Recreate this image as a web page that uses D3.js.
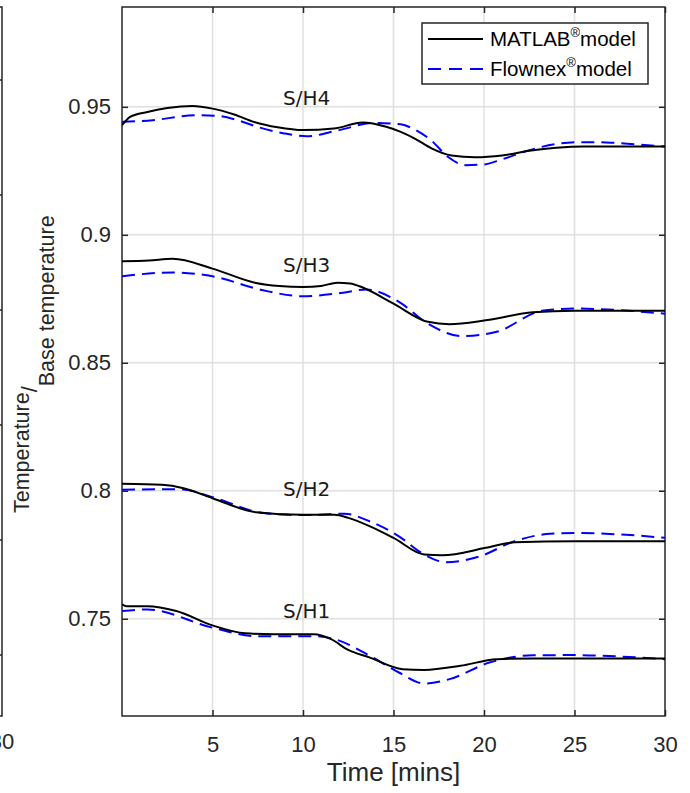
<!DOCTYPE html>
<html>
<head>
<meta charset="utf-8">
<script src="https://cdn.jsdelivr.net/npm/d3@7"></script>
<style>
	body { margin: 0; background: #fff; }
	text { font-family: 'Liberation Sans', Arial, Helvetica, sans-serif; }
</style>
</head>
<body>
<svg id="chart" width="690" height="793"></svg>
<script>
// ticks
let xTicks = [5, 10, 15, 20, 25, 30];
let yTicks = [0.75, 0.8, 0.85, 0.9, 0.95];

// S/H4
let sh4MatlabT = [0, 0.45, 1.4, 2.5, 3.9, 5.0, 6.2, 7.3, 8.6, 10.0, 11.7, 13.3, 14.6, 15.4, 16.2, 17.1, 18.2, 19.5, 21.0, 22.5, 24.0, 25.5, 30];
let sh4MatlabV = [0.9428, 0.9461, 0.948, 0.9495, 0.9503, 0.9493, 0.947, 0.9441, 0.942, 0.9409, 0.9415, 0.9439, 0.9422, 0.9402, 0.9375, 0.9338, 0.931, 0.9303, 0.931, 0.9328, 0.934, 0.9345, 0.9345];
let sh4FlownexT = [0, 1.7, 4.1, 5.4, 6.5, 7.6, 8.9, 10.2, 12.0, 13.9, 15.4, 16.2, 17.1, 18.0, 19.0, 20.0, 21.0, 22.5, 24.0, 25.5, 27.0, 28.5, 30];
let sh4FlownexV = [0.9441, 0.9448, 0.9467, 0.9464, 0.9445, 0.9419, 0.9397, 0.9385, 0.9409, 0.9437, 0.9432, 0.941, 0.9368, 0.9305, 0.9272, 0.9275, 0.9295, 0.933, 0.9355, 0.9362, 0.936, 0.9353, 0.9345];

// S/H3
let sh3MatlabT = [0, 1.5, 2.8, 5.0, 7.4, 8.7, 10.0, 11.0, 11.9, 12.6, 13.3, 15.0, 16.9, 18.1, 20.1, 22.7, 25.0, 30];
let sh3MatlabV = [0.8897, 0.89, 0.8906, 0.8868, 0.8812, 0.88, 0.8796, 0.88, 0.8813, 0.881, 0.8794, 0.8731, 0.866, 0.8651, 0.8666, 0.8697, 0.8703, 0.8703];
let sh3FlownexT = [0, 2.8, 5.0, 7.8, 10.0, 12.1, 13.5, 15.3, 16.9, 18.8, 20.7, 23.2, 25.0, 27.6, 30];
let sh3FlownexV = [0.8838, 0.8853, 0.8838, 0.8783, 0.876, 0.8773, 0.8786, 0.8738, 0.8653, 0.8604, 0.8621, 0.8703, 0.8712, 0.8705, 0.8692];

// S/H2
let sh2MatlabT = [0, 2.2, 3.4, 5.0, 7.4, 10.0, 11.75, 12.5, 13.7, 15.0, 16.7, 17.7, 20.1, 21.7, 25.0, 30];
let sh2MatlabV = [0.8027, 0.8023, 0.801, 0.7971, 0.7916, 0.7906, 0.7906, 0.7894, 0.7861, 0.7816, 0.7751, 0.7748, 0.7777, 0.7799, 0.7803, 0.7803];
let sh2FlownexT = [0, 3.2, 5.0, 7.8, 10.0, 12.3, 13.7, 15.3, 16.7, 17.9, 19.7, 21.7, 23.65, 25.0, 27.6, 30];
let sh2FlownexV = [0.8004, 0.8006, 0.7975, 0.7913, 0.7905, 0.791, 0.788, 0.7822, 0.7751, 0.7721, 0.7742, 0.7803, 0.7832, 0.7835, 0.7829, 0.7816];

// S/H1
let sh1MatlabT = [0, 0.25, 1.4, 3.0, 5.0, 6.8, 8.4, 10.6, 11.55, 12.5, 13.7, 15.5, 16.7, 18.7, 20.7, 22.7, 30];
let sh1MatlabV = [0.7556, 0.7549, 0.7549, 0.753, 0.7474, 0.7443, 0.7439, 0.7439, 0.742, 0.7378, 0.7348, 0.7303, 0.73, 0.7316, 0.7342, 0.7345, 0.7345];
let sh1FlownexT = [0, 1.4, 5.0, 7.4, 10.6, 11.75, 13.7, 15.3, 16.7, 18.1, 20.3, 22.7, 25.0, 27.6, 30];
let sh1FlownexV = [0.753, 0.7536, 0.7465, 0.7432, 0.7432, 0.742, 0.7355, 0.729, 0.7247, 0.7264, 0.7329, 0.7357, 0.7358, 0.7352, 0.7342];

// curve labels
let labelNames = ['S/H4', 'S/H3', 'S/H2', 'S/H1'];
let labelT = [8.9, 8.9, 8.9, 8.9];
let labelV = [0.9507, 0.8855, 0.798, 0.7504];

// neighbouring (cropped) axes on the left
let neighbourTicks = [0.7, 0.75, 0.8, 0.85, 0.9, 0.95];

let legendNames = ['MATLAB', 'Flownex'];

/*global d3*/
let svg = d3.select('#chart');
let plotLeft = 122, plotRight = 665, plotTop = 7, plotBottom = 716;
let axisColor = '#262626';

let x = d3.scaleLinear().domain([0, 30]).range([plotLeft, plotRight]);
let y = d3.scaleLinear().domain([0.712, 0.989]).range([plotBottom, plotTop]);

// grid
svg.append('g').selectAll('line')
	.data(xTicks.slice(0, -1))
	.enter().append('line')
	.attr('x1', d => x(d)).attr('x2', d => x(d))
	.attr('y1', plotTop).attr('y2', plotBottom)
	.attr('stroke', '#e0e0e0').attr('stroke-width', 1.5);
svg.append('g').selectAll('line')
	.data(yTicks)
	.enter().append('line')
	.attr('x1', plotLeft).attr('x2', plotRight)
	.attr('y1', d => y(d)).attr('y2', d => y(d))
	.attr('stroke', '#e0e0e0').attr('stroke-width', 1.5);

// axes (box on, ticks inside)
let tickLen = 6;
let xAxisB = d3.axisBottom(x).tickValues(xTicks).tickSizeInner(-tickLen).tickSizeOuter(0).tickPadding(20);
let xAxisT = d3.axisTop(x).tickValues(xTicks).tickSizeInner(-tickLen).tickSizeOuter(0).tickFormat('');
let yAxisL = d3.axisLeft(y).tickValues(yTicks).tickSizeInner(-tickLen).tickSizeOuter(0).tickPadding(11).tickFormat(d => String(d));
let yAxisR = d3.axisRight(y).tickValues(yTicks).tickSizeInner(-tickLen).tickSizeOuter(0).tickFormat('');

function styleAxis(g) {
	g.select('.domain').remove();
	g.selectAll('line').attr('stroke', axisColor).attr('stroke-width', 1.5);
	g.selectAll('text').attr('fill', axisColor).style('font-size', '22px')
		.style('font-family', "'Liberation Sans', Arial, sans-serif");
}

svg.append('g').attr('transform', `translate(0,${plotBottom})`).call(xAxisB).call(styleAxis);
svg.append('g').attr('transform', `translate(0,${plotTop})`).call(xAxisT).call(styleAxis);
svg.append('g').attr('transform', `translate(${plotLeft},0)`).call(yAxisL).call(styleAxis);
svg.append('g').attr('transform', `translate(${plotRight},0)`).call(yAxisR).call(styleAxis);

svg.append('rect')
	.attr('x', plotLeft).attr('y', plotTop)
	.attr('width', plotRight - plotLeft).attr('height', plotBottom - plotTop)
	.attr('fill', 'none').attr('stroke', axisColor).attr('stroke-width', 1.5);

// data lines
svg.append('clipPath').attr('id', 'plot-clip')
	.append('rect').attr('x', plotLeft).attr('y', plotTop)
	.attr('width', plotRight - plotLeft).attr('height', plotBottom - plotTop);

let line = d3.line()
	.x(d => x(d[0]))
	.y(d => y(d[1]))
	.curve(d3.curveMonotoneX);

let series = [
	{ t: sh4FlownexT, v: sh4FlownexV, kind: 'flownex' },
	{ t: sh3FlownexT, v: sh3FlownexV, kind: 'flownex' },
	{ t: sh2FlownexT, v: sh2FlownexV, kind: 'flownex' },
	{ t: sh1FlownexT, v: sh1FlownexV, kind: 'flownex' },
	{ t: sh4MatlabT, v: sh4MatlabV, kind: 'matlab' },
	{ t: sh3MatlabT, v: sh3MatlabV, kind: 'matlab' },
	{ t: sh2MatlabT, v: sh2MatlabV, kind: 'matlab' },
	{ t: sh1MatlabT, v: sh1MatlabV, kind: 'matlab' }
];

svg.append('g').attr('clip-path', 'url(#plot-clip)')
	.selectAll('path')
	.data(series)
	.enter().append('path')
	.attr('d', s => line(s.t.map((t, i) => [t, s.v[i]])))
	.attr('fill', 'none')
	.attr('stroke', s => s.kind === 'matlab' ? '#000' : '#0000ff')
	.attr('stroke-width', 2)
	.attr('stroke-dasharray', s => s.kind === 'matlab' ? null : '13,7');

// curve labels
svg.append('g').selectAll('text')
	.data(labelNames)
	.enter().append('text')
	.attr('x', (d, i) => x(labelT[i]))
	.attr('y', (d, i) => y(labelV[i]))
	.style('font-family', "'DejaVu Sans', Verdana, sans-serif")
	.style('font-size', '20px')
	.attr('fill', '#1a1a1a')
	.text(d => d);

// x label
svg.append('text')
	.attr('x', (plotLeft + plotRight) / 2)
	.attr('y', 781)
	.attr('text-anchor', 'middle')
	.attr('fill', axisColor)
	.style('font-size', '26px')
	.text('Time [mins]');

// y label: Temperature / Base temperature (rotated)
let yLabel = svg.append('text')
	.attr('transform', 'rotate(-90)')
	.attr('fill', axisColor)
	.style('font-size', '21.5px');
yLabel.append('tspan').attr('x', -513).attr('y', 29).text('Temperature');
yLabel.append('tspan').attr('dy', 8).text('/');
yLabel.append('tspan').attr('dy', 17).text('Base temperature');

// legend
let legend = svg.append('g');
legend.append('rect')
	.attr('x', 422).attr('y', 23)
	.attr('width', 226).attr('height', 61)
	.attr('fill', '#fff').attr('stroke', axisColor).attr('stroke-width', 1.5);

let legendRows = legend.selectAll('.legend-row')
	.data(legendNames)
	.enter().append('g')
	.attr('class', 'legend-row')
	.attr('transform', (d, i) => `translate(0,${39 + i * 30})`);

legendRows.append('line')
	.attr('x1', 428).attr('x2', 483)
	.attr('y1', 0).attr('y2', 0)
	.attr('stroke', (d, i) => i === 0 ? '#000' : '#0000ff')
	.attr('stroke-width', 2)
	.attr('stroke-dasharray', (d, i) => i === 0 ? null : '13,8');

let legendText = legendRows.append('text')
	.attr('x', 490).attr('y', 7)
	.attr('fill', '#000')
	.style('font-size', '20.5px');
legendText.append('tspan').text(d => d);
legendText.append('tspan').attr('dy', -9).style('font-size', '13px').text('\u00AE');
legendText.append('tspan').attr('dy', 9).text('model');

// cropped neighbouring axes at the far left
let yN = d3.scaleLinear().domain([0.6735, 0.9817]).range([plotBottom, plotTop]);
let neighbour = svg.append('g');
neighbour.append('path')
	.attr('d', `M0,${plotTop}H2V${plotBottom}H0`)
	.attr('fill', 'none').attr('stroke', axisColor).attr('stroke-width', 1.5);
neighbour.selectAll('.ntick')
	.data(neighbourTicks)
	.enter().append('line')
	.attr('class', 'ntick')
	.attr('x1', -4).attr('x2', 2)
	.attr('y1', d => yN(d)).attr('y2', d => yN(d))
	.attr('stroke', axisColor).attr('stroke-width', 1.5);
neighbour.append('text')
	.attr('x', 2).attr('y', plotBottom + 20 + 13)
	.attr('text-anchor', 'middle')
	.attr('fill', axisColor)
	.style('font-size', '22px')
	.text('30');
</script>
</body>
</html>
